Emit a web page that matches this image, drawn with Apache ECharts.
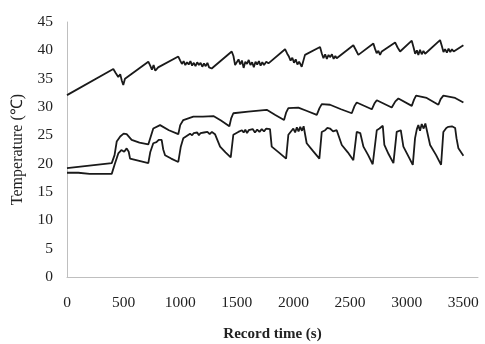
<!DOCTYPE html>
<html>
<head>
<meta charset="utf-8">
<script src="https://cdn.jsdelivr.net/npm/echarts@6/dist/echarts.min.js"></script>
<style>html,body{margin:0;padding:0;background:#fff}#c{width:485px;height:344px}</style>
</head>
<body>
<div id="c"></div>
<script>
// X tick labels: 0..3500 step 500; Y tick labels: 0..45 step 5
const xTicks = [0, 500, 1000, 1500, 2000, 2500, 3000, 3500];
const yTicks = [0, 5, 10, 15, 20, 25, 30, 35, 40, 45];

// Upper curve [time s, temperature °C]
const upperCurve = [
[0,32.1],[409,36.7],[430,36.0],[453,35.3],[470,35.8],[485,34.6],[497,33.9],[512,35.0],
[718,38.0],[735,37.3],[750,36.6],[765,37.4],[780,36.4],[792,36.2],[805,37.0],[822,36.8],
[983,38.9],[1000,38.2],[1015,37.6],[1030,38.1],[1045,37.4],[1060,37.9],[1075,37.5],[1090,38.1],[1105,37.3],[1120,37.8],[1135,37.2],[1150,37.9],[1165,37.4],[1180,37.8],[1195,37.1],[1210,37.7],[1225,37.2],[1240,37.8],[1255,37.0],[1278,36.8],
[1455,39.8],[1470,39.0],[1485,37.4],[1499,37.7],[1515,38.4],[1530,37.5],[1545,38.2],[1560,36.9],[1575,38.0],[1590,37.6],[1605,38.3],[1620,37.4],[1635,37.9],[1650,37.0],[1665,38.0],[1680,37.5],[1695,38.1],[1710,37.3],[1725,37.9],[1740,37.4],[1760,38.0],[1779,37.7],
[1926,40.2],[1945,39.4],[1960,38.9],[1975,38.2],[1990,38.7],[2005,37.8],[2020,38.4],[2035,37.5],[2050,38.0],[2073,37.1],
[2102,39.2],[2235,40.6],[2250,39.5],[2265,38.6],[2280,39.3],[2295,38.5],[2310,39.2],[2323,38.8],[2340,39.3],[2355,38.5],[2370,39.0],[2382,38.6],
[2529,40.9],[2550,40.1],[2573,39.2],[2706,41.2],[2720,40.3],[2735,39.5],[2750,39.9],[2765,39.2],[2780,39.8],
[2898,41.4],[2920,40.5],[2942,39.8],[3045,41.7],[3060,40.6],[3075,39.4],[3090,40.0],[3103,39.2],[3118,40.1],[3133,39.3],[3148,39.9],[3163,39.4],[3177,39.7],
[3295,41.8],[3310,40.8],[3325,39.7],[3339,40.2],[3355,39.6],[3370,40.3],[3385,39.7],[3400,40.2],[3415,39.8],[3428,40.1],[3501,40.9]
];

// Middle curve [time s, temperature °C]
const middleCurve = [
[0,19.2],[395,20.1],[420,21.5],[439,23.9],[470,24.8],[500,25.3],[527,25.2],[571,24.2],[640,23.7],[718,23.4],
[740,24.8],[762,26.2],[822,26.8],[900,25.9],[983,25.2],
[1000,26.8],[1027,27.7],[1116,28.3],[1200,28.3],[1293,28.4],[1360,27.6],[1434,26.6],
[1450,28.0],[1469,28.9],[1600,29.2],[1764,29.5],[1840,28.6],[1917,27.7],
[1935,29.0],[1955,29.8],[2043,29.9],[2120,29.3],[2206,28.6],
[2230,29.8],[2250,30.5],[2323,30.4],[2420,29.6],[2515,28.9],
[2540,30.2],[2559,30.8],[2692,29.6],[2715,30.6],[2736,31.2],[2868,29.9],[2900,31.0],[2927,31.5],[3045,30.2],[3065,31.3],[3083,32.0],[3177,31.6],[3280,30.4],[3300,31.4],[3324,32.0],[3428,31.6],[3501,30.8]
];

// Lower curve [time s, temperature °C]
const lowerCurve = [
[0,18.4],[100,18.4],[200,18.2],[395,18.2],[420,19.8],[453,21.8],[480,22.4],[505,22.1],[527,22.7],[545,22.1],[557,20.9],[620,20.6],[718,20.1],
[735,22.0],[762,23.6],[790,23.8],[810,24.2],[836,24.2],[850,22.5],[866,21.5],[920,20.9],[983,20.3],
[1005,23.0],[1027,24.5],[1087,25.3],[1105,25.0],[1120,25.4],[1135,25.1],[1150,25.5],[1165,25.0],[1180,25.4],[1195,25.1],[1210,25.5],[1225,25.2],[1240,25.6],[1260,25.2],[1280,25.6],[1307,25.2],
[1352,23.0],[1400,22.0],[1446,21.1],
[1469,25.1],[1513,25.6],[1530,25.3],[1545,25.9],[1560,25.5],[1575,26.0],[1590,25.4],[1605,25.9],[1620,25.6],[1640,26.1],[1660,25.5],[1680,26.0],[1700,25.6],[1720,26.1],[1740,25.7],[1760,26.2],[1793,26.1],
[1808,23.0],[1870,22.0],[1935,20.9],
[1955,25.1],[1999,26.2],[2015,25.5],[2030,26.4],[2045,25.7],[2060,26.5],[2075,25.8],[2090,26.6],[2102,26.5],
[2117,23.6],[2170,22.3],[2229,20.9],
[2250,25.6],[2280,25.9],[2300,26.3],[2323,26.2],[2350,25.7],[2382,25.9],
[2427,23.3],[2480,22.0],[2529,20.6],
[2559,25.6],[2590,25.4],[2618,23.0],[2660,21.5],[2700,19.9],
[2736,25.9],[2760,26.2],[2789,26.7],[2803,23.3],[2840,21.7],[2883,20.1],
[2912,25.6],[2948,25.9],[2971,23.0],[3010,21.5],[3054,19.8],
[3074,24.5],[3090,26.1],[3103,26.8],[3118,25.8],[3133,27.0],[3150,26.2],[3165,27.1],[3177,26.9],
[3207,23.3],[3260,21.5],[3304,19.8],
[3324,25.6],[3350,26.3],[3368,26.5],[3400,26.6],[3428,26.3],[3440,24.5],[3457,22.7],[3501,21.4]
];

const xTitle = 'Record time (s)';
const yTitle = 'Temperature (\u2103)';

const FONT = '"Liberation Serif", "Times New Roman", serif';
const chart = echarts.init(document.getElementById('c'), null, {renderer: 'canvas'});
const lineStyle = {color: '#1a1a1a', width: 1.8};
function mk(data) {
  return {type: 'line', data: data, showSymbol: false, symbol: 'none', lineStyle: lineStyle, animation: false};
}
chart.setOption({
  backgroundColor: '#fff',
  animation: false,
  grid: {left: 67, right: 7, top: 22, bottom: 67, containLabel: false, outerBoundsMode: 'none'},
  xAxis: {
    type: 'value', min: xTicks[0], max: 3630, interval: xTicks[1] - xTicks[0],
    axisLine: {show: true, lineStyle: {color: '#bfbfbf', width: 1}},
    axisTick: {show: false}, splitLine: {show: false},
    axisLabel: {color: '#222', fontFamily: FONT, fontSize: 15.5, margin: 18,
      formatter: v => (xTicks.indexOf(v) >= 0 ? String(v) : '')},
    name: xTitle, nameLocation: 'middle', nameGap: 50,
    nameTextStyle: {color: '#222', fontFamily: FONT, fontSize: 15, fontWeight: 'bold'}
  },
  yAxis: {
    type: 'value', min: yTicks[0], max: yTicks[yTicks.length - 1], interval: yTicks[1] - yTicks[0],
    axisLine: {show: true, lineStyle: {color: '#bfbfbf', width: 1}},
    axisTick: {show: false}, splitLine: {show: false},
    axisLabel: {color: '#222', fontFamily: FONT, fontSize: 15.5, margin: 14},
    name: yTitle, nameLocation: 'middle', nameGap: 41, nameRotate: 90,
    nameTextStyle: {color: '#222', fontFamily: FONT, fontSize: 16}
  },
  series: [mk(upperCurve), mk(middleCurve), mk(lowerCurve)]
});
</script>
</body>
</html>
